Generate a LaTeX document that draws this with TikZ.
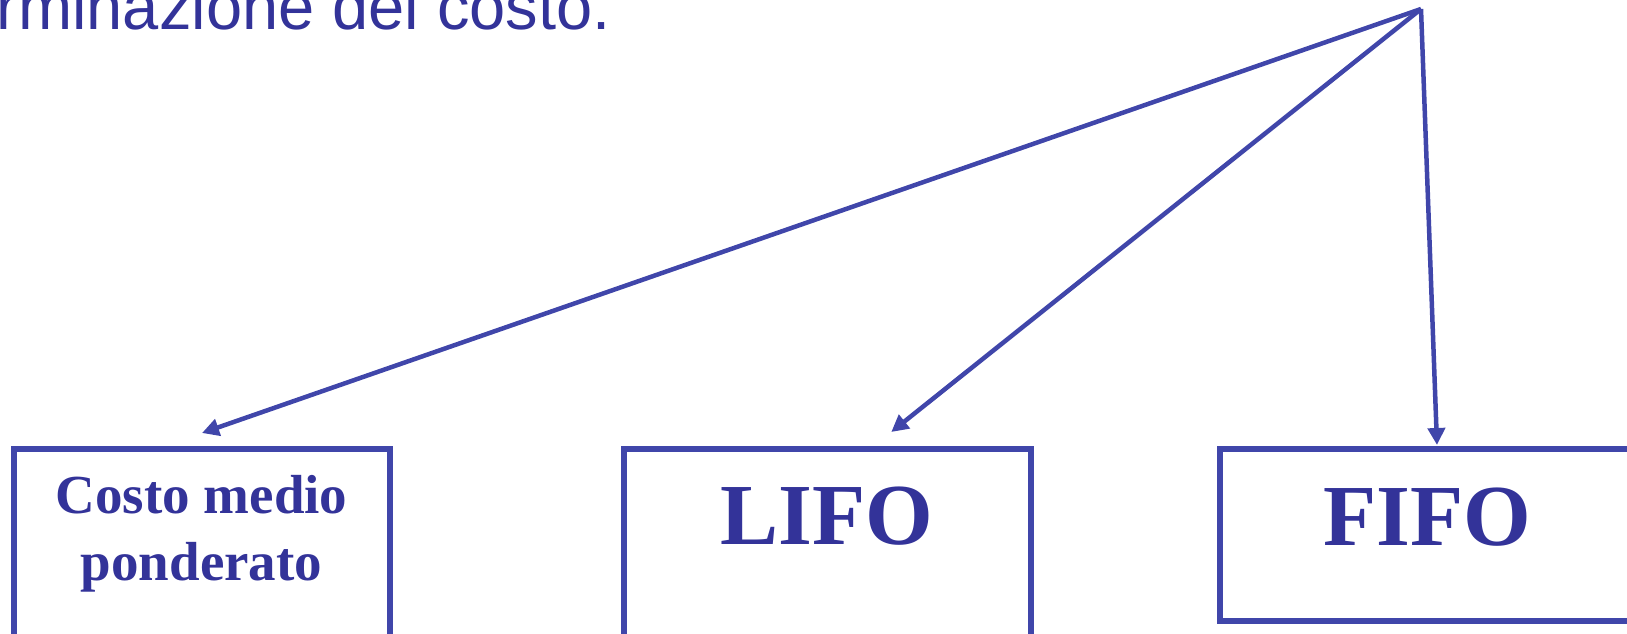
\documentclass[tikz,border=0pt]{standalone}
\usepackage{fontspec}
\setmainfont{Liberation Serif}
\newfontfamily\titlefont{Liberation Sans}
\usetikzlibrary{arrows.meta,calc,positioning}
\definecolor{textblue}{HTML}{333399}
\definecolor{lineblue}{HTML}{4046AA}
\begin{document}
\begin{tikzpicture}[x=1pt,y=-1pt,
    box/.style={draw=lineblue,line width=6pt,rectangle,inner sep=0pt,outer sep=0pt,
      anchor=north west,text=textblue,font=\fontsize{87}{100}\selectfont\bfseries},
    arr/.style={draw=lineblue,line width=4.5pt,-{Triangle[length=17pt,width=17pt]}}]
  \useasboundingbox (0,0) rectangle (1627,634);
  \clip (0,0) rectangle (1627,634);
  % heading, cut off at the page edge
  \node[anchor=base east,inner sep=0pt,text=textblue,font=\titlefont\fontsize{65}{72}\selectfont]
    (title) at (611,29.5) {rminazione del costo.};
  \coordinate (src) at (1421,9);
  % the three boxes
  \node[box,minimum width=376pt,text height=131.5pt,text depth=100pt,align=center,
    font=\fontsize{55}{67}\selectfont\bfseries] (cmp) at (13.5,448.5) {Costo medio\\ponderato};
  \node[box,minimum width=406.5pt,text height=95.5pt,text depth=150pt] (lifo) at (624,448.5) {LIFO};
  \node[box,minimum width=415pt,text height=96.5pt,text depth=76pt] (fifo) at (1219.5,448.5) {FIFO};
  % arrow tips sit just above the boxes
  \coordinate (t1) at ($(cmp.north)+(0.5,-15.5)$);
  \coordinate (t2) at ($(lifo.north)+(64,-16.5)$);
  \coordinate (t3) at ($(fifo.north)+(10,-3.5)$);
  \draw[arr] (src) -- (t1);
  \draw[arr] (src) -- (t2);
  \draw[arr] (src) -- (t3);
\end{tikzpicture}
\end{document}
